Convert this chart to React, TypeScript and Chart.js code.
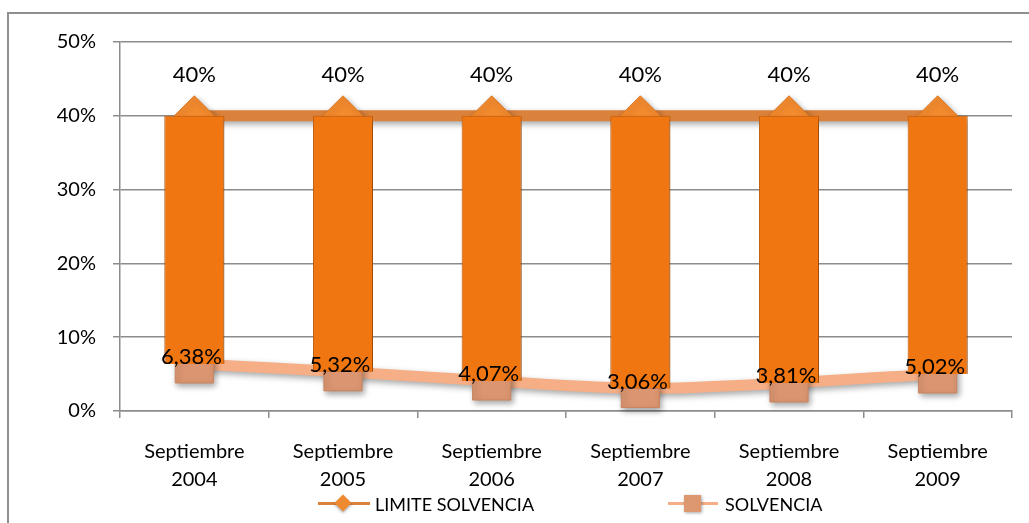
import React, { useEffect, useRef } from "react";
import { Chart, registerables } from "chart.js";

Chart.register(...registerables);

const categories: string[][] = [
  ["Septiembre", "2004"],
  ["Septiembre", "2005"],
  ["Septiembre", "2006"],
  ["Septiembre", "2007"],
  ["Septiembre", "2008"],
  ["Septiembre", "2009"],
];
const limiteSolvencia: number[] = [40, 40, 40, 40, 40, 40];
const solvencia: number[] = [6.38, 5.32, 4.07, 3.06, 3.81, 5.02];
const yTicks: number[] = [0, 10, 20, 30, 40, 50];

const FONT = "Lato, 'Open Sans', sans-serif";

const fmt = (v: number) =>
  (Number.isInteger(v) ? String(v) : v.toFixed(2).replace(".", ",")) + "%";

const labelsPlugin = {
  id: "pointLabels",
  afterDatasetsDraw(chart: any) {
    const ctx = chart.ctx;
    ctx.save();
    ctx.fillStyle = "#000";
    ctx.textAlign = "center";
    ctx.textBaseline = "middle";
    ctx.font = `22px ${FONT}`;
    const mLim = chart.getDatasetMeta(1);
    mLim.data.forEach((p: any, i: number) => {
      ctx.fillText(fmt(limiteSolvencia[i]), p.x, p.y - 41);
    });
    const mSol = chart.getDatasetMeta(2);
    mSol.data.forEach((p: any, i: number) => {
      ctx.fillText(fmt(solvencia[i]), p.x - 3, p.y - 7);
    });
    ctx.restore();
  },
};

const shadowPlugin = {
  id: "softShadow",
  beforeDatasetDraw(chart: any) {
    const ctx = chart.ctx;
    ctx.save();
    ctx.shadowColor = "rgba(0,0,0,0.35)";
    ctx.shadowBlur = 6;
    ctx.shadowOffsetX = 2;
    ctx.shadowOffsetY = 3;
  },
  afterDatasetDraw(chart: any) {
    chart.ctx.restore();
  },
};

export default function App() {
  const ref = useRef<HTMLCanvasElement | null>(null);

  useEffect(() => {
    if (!ref.current) return;
    const chart = new Chart(ref.current, {
      type: "bar",
      data: {
        labels: categories as any,
        datasets: [
          {
            type: "bar",
            label: "bars",
            data: solvencia.map((s, i) => [s, limiteSolvencia[i]]) as any,
            backgroundColor: "#F07612",
            borderColor: "#CC630D",
            borderWidth: 1,
            barPercentage: 0.404,
            categoryPercentage: 1,
            order: 0,
          } as any,
          {
            type: "line",
            label: "LIMITE SOLVENCIA",
            data: limiteSolvencia,
            borderColor: "#DA813B",
            borderWidth: 11,
            pointStyle: "rectRot",
            pointRadius: 20,
            pointBackgroundColor: "#F28A2E",
            pointBorderColor: "#DD7822",
            pointBorderWidth: 1,
            order: 2,
          } as any,
          {
            type: "line",
            label: "SOLVENCIA",
            data: solvencia,
            borderColor: "#F5AE85",
            borderWidth: 11,
            tension: 0.3,
            pointStyle: "rect",
            pointRadius: 27,
            pointBackgroundColor: "#DB9570",
            pointBorderColor: "#C98560",
            pointBorderWidth: 1,
            clip: false,
            order: 1,
          } as any,
        ],
      },
      options: {
        animation: false,
        responsive: false,
        maintainAspectRatio: false,
        layout: { autoPadding: false, padding: { left: 0, right: 17, top: 42, bottom: 0 } },
        plugins: {
          legend: { display: false },
          tooltip: { enabled: false },
        },
        scales: {
          x: {
            offset: true,
            grid: {
              display: true,
              drawOnChartArea: false,
              offset: true,
              tickLength: 7,
              color: "#8c8c8c",
              lineWidth: 1.5,
            },
            border: { color: "#8c8c8c", width: 1.5 },
            ticks: {
              color: "#000",
              font: { family: FONT, size: 20, lineHeight: "28px" },
              padding: 20,
              maxRotation: 0,
              autoSkip: false,
            },
            afterFit(scale: any) {
              scale.height = 112;
              scale.paddingLeft = 0;
              scale.paddingRight = 0;
            },
          },
          y: {
            min: 0,
            max: 50,
            afterBuildTicks(scale: any) {
              scale.ticks = yTicks.map((v) => ({ value: v }));
            },
            grid: {
              color: "#8c8c8c",
              lineWidth: 1.5,
              tickLength: 7,
            },
            border: { color: "#8c8c8c", width: 1.5 },
            ticks: {
              color: "#000",
              font: { family: FONT, size: 20 },
              padding: 17,
              callback: (v: any) => v + "%",
            },
            afterFit(scale: any) {
              scale.width = 120;
              scale.paddingTop = 0;
              scale.paddingBottom = 0;
            },
          },
        },
      },
      plugins: [shadowPlugin, labelsPlugin],
    });
    return () => chart.destroy();
  }, []);

  return (
    <div
      style={{
        position: "fixed",
        left: 0,
        top: 0,
        width: 1029,
        height: 523,
        overflow: "hidden",
        background: "#fff",
        fontFamily: FONT,
      }}
    >
      <div
        style={{
          position: "absolute",
          left: 7,
          top: 12,
          width: 1100,
          height: 600,
          border: "2px solid #8f8f8f",
        }}
      />
      <canvas
        ref={ref}
        width={1029}
        height={523}
        style={{ position: "absolute", left: 0, top: 0, width: 1029, height: 523 }}
      />
      {/* legend */}
      <div style={{ position: "absolute", left: 318, top: 502, width: 52, height: 3, background: "#DA813B" }} />
      <div
        style={{
          position: "absolute",
          left: 337,
          top: 497,
          width: 12,
          height: 12,
          background: "#F08A30",
          transform: "rotate(45deg)",
          boxShadow: "1px 1px 3px rgba(0,0,0,0.35)",
        }}
      />
      <div style={{ position: "absolute", left: 375, top: 492, fontSize: 18, lineHeight: "24px", color: "#000", whiteSpace: "nowrap" }}>
        LIMITE SOLVENCIA
      </div>
      <div style={{ position: "absolute", left: 668, top: 502, width: 50, height: 3, background: "#F5AE85" }} />
      <div
        style={{
          position: "absolute",
          left: 684,
          top: 495,
          width: 17,
          height: 17,
          background: "#DE9870",
          boxShadow: "1px 1px 3px rgba(0,0,0,0.35)",
        }}
      />
      <div style={{ position: "absolute", left: 725, top: 492, fontSize: 18, lineHeight: "24px", color: "#000", whiteSpace: "nowrap" }}>
        SOLVENCIA
      </div>
    </div>
  );
}
